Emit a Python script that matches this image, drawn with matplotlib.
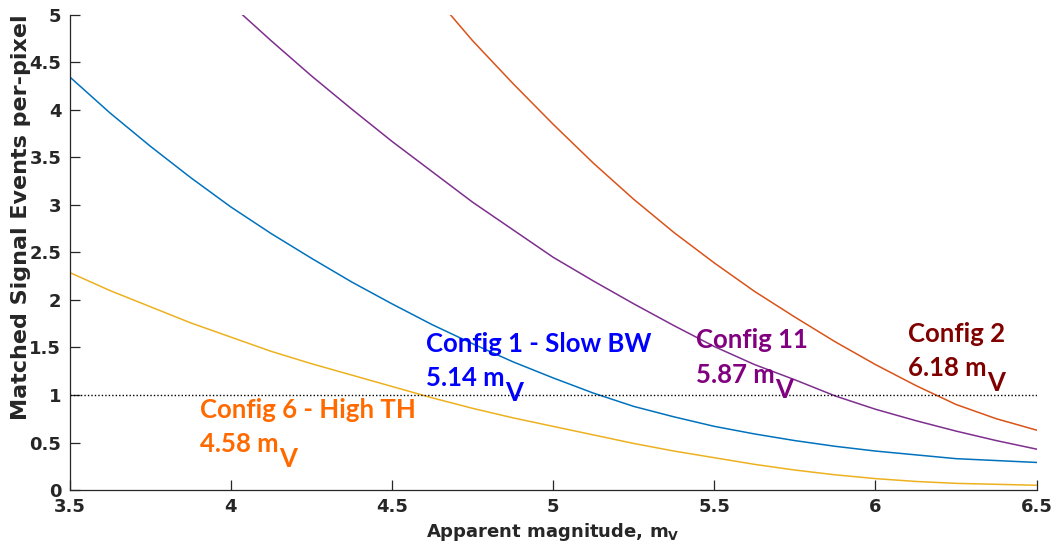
import matplotlib.pyplot as plt

# Matched signal events per pixel vs apparent magnitude, one curve per config
mag_blue = [3.5, 3.625, 3.75, 3.875, 4.0, 4.125, 4.25, 4.375, 4.5, 4.625, 4.75,
            4.875, 5.0, 5.125, 5.25, 5.375, 5.5, 5.625, 5.75, 5.875, 6.0,
            6.125, 6.25, 6.375, 6.5]
ev_blue = [4.35, 3.97, 3.62, 3.29, 2.98, 2.70, 2.44, 2.19, 1.96, 1.74, 1.54,
           1.35, 1.18, 1.02, 0.88, 0.77, 0.67, 0.59, 0.52, 0.46, 0.41,
           0.37, 0.33, 0.31, 0.29]

mag_yellow = mag_blue
ev_yellow = [2.29, 2.10, 1.93, 1.76, 1.61, 1.46, 1.33, 1.21, 1.09, 0.97, 0.86,
             0.76, 0.67, 0.58, 0.49, 0.41, 0.34, 0.27, 0.21, 0.16, 0.12,
             0.09, 0.07, 0.06, 0.05]

mag_purple = [4.037, 4.125, 4.25, 4.375, 4.5, 4.625, 4.75, 4.875, 5.0, 5.125,
              5.25, 5.375, 5.5, 5.625, 5.75, 5.875, 6.0, 6.125, 6.25, 6.375, 6.5]
ev_purple = [5.0, 4.73, 4.36, 4.01, 3.67, 3.35, 3.03, 2.74, 2.45, 2.20,
             1.96, 1.73, 1.51, 1.32, 1.16, 0.99, 0.85, 0.73, 0.62, 0.52, 0.43]

mag_orange = [4.682, 4.75, 4.875, 5.0, 5.125, 5.25, 5.375, 5.5, 5.625, 5.75,
              5.875, 6.0, 6.125, 6.25, 6.375, 6.5]
ev_orange = [5.0, 4.73, 4.28, 3.85, 3.44, 3.06, 2.71, 2.39, 2.09, 1.82,
             1.56, 1.32, 1.10, 0.90, 0.75, 0.63]

threshold = 1.0

# label text, x, y of first line, colour
labels = [
    ('Config 1 - Slow BW', '5.14 m', 4.606, 1.456, '#0000FF'),
    ('Config 6 - High TH', '4.58 m', 3.905, 0.76, '#FF6A00'),
    ('Config 11', '5.87 m', 5.443, 1.49, '#800080'),
    ('Config 2', '6.18 m', 6.102, 1.56, '#800000'),
]

dark = '#262626'
fig = plt.figure(figsize=(10.6, 5.54), dpi=100)
ax = fig.add_axes([0.0656, 0.1155, 0.978 - 0.0656, 0.973 - 0.1155])

ax.plot(mag_blue, ev_blue, color='#0072BD', lw=1.1)
ax.plot(mag_orange, ev_orange, color='#D95319', lw=1.1)
ax.plot(mag_yellow, ev_yellow, color='#EDB120', lw=1.1)
ax.plot(mag_purple, ev_purple, color='#7E2F8E', lw=1.1)
ax.plot([3.5, 6.5], [threshold, threshold], color='black', lw=1.0, ls=(0, (1, 1.5)))

ax.set_xlim(3.5, 6.5)
ax.set_ylim(0, 5)
ax.set_xticks([3.5, 4, 4.5, 5, 5.5, 6, 6.5])
ax.set_xticklabels(['3.5', '4', '4.5', '5', '5.5', '6', '6.5'])
ax.set_yticks([0, 0.5, 1, 1.5, 2, 2.5, 3, 3.5, 4, 4.5, 5])
ax.set_yticklabels(['0', '0.5', '1', '1.5', '2', '2.5', '3', '3.5', '4', '4.5', '5'])

for s in ['top', 'right']:
    ax.spines[s].set_visible(False)
for s in ['left', 'bottom']:
    ax.spines[s].set_color(dark)
    ax.spines[s].set_linewidth(0.9)
ax.tick_params(direction='in', length=7, width=0.9, color=dark,
               labelcolor=dark, labelsize=13, pad=6)
for lab in ax.get_xticklabels() + ax.get_yticklabels():
    lab.set_fontweight('bold')

ax.set_xlabel(r'Apparent magnitude, m$_\mathbf{V}$', fontsize=13,
              fontweight='bold', color=dark, labelpad=3)
ax.set_ylabel('Matched Signal Events per-pixel', fontsize=16,
              fontweight='bold', color=dark)
ax.yaxis.set_label_coords(-0.040, 0.575)

line_gap = 0.36
for top, bottom, x, y, c in labels:
    ax.text(x, y, top, color=c, fontsize=18.5, fontweight='bold',
            family='Lato', va='baseline')
    t = ax.text(x, y - line_gap, bottom, color=c, fontsize=18.5,
                fontweight='bold', family='Lato', va='baseline')
    ax.annotate('V', xy=(1, 0), xycoords=t, xytext=(0, -8),
                textcoords='offset points', color=c, fontsize=18.5,
                fontweight='bold', family='Lato', va='baseline', ha='left')

fig.savefig('out.png', dpi=100)
